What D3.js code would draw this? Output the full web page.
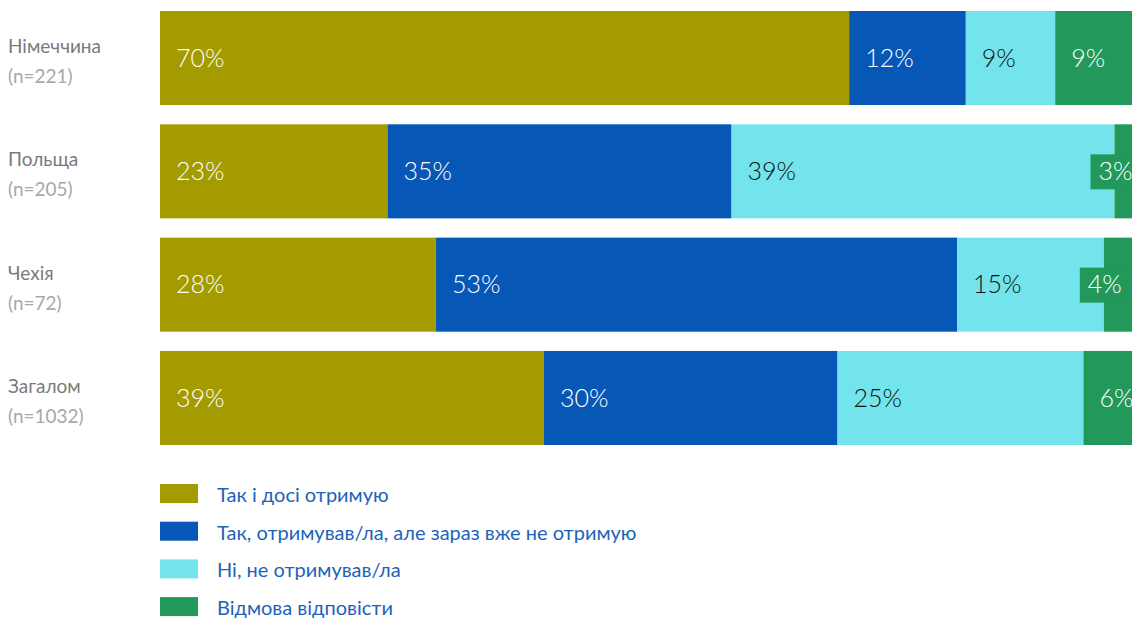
<!DOCTYPE html>
<html>
<head>
<meta charset="utf-8">
<script src="https://cdn.jsdelivr.net/npm/d3@7"></script>
<style>
  body { margin: 0; background: #fff; }
  text { font-family: Lato, "Noto Sans", sans-serif; }
</style>
</head>
<body>
<svg id="chart" width="1132" height="618"></svg>
<script>
// countries (rows) and sample sizes
const countries = ["Німеччина", "Польща", "Чехія", "Загалом"];
const sampleSizes = ["(n=221)", "(n=205)", "(n=72)", "(n=1032)"];

// answer categories
const answers = [
  "Так і досі отримую",
  "Так, отримував/ла, але зараз вже не отримую",
  "Ні, не отримував/ла",
  "Відмова відповісти",
];

// shares (per row, in answer order)
const stillReceive = [70.9, 23.4, 28.4, 39.5];
const receivedBefore = [12.0, 35.4, 53.6, 30.2];
const neverReceived = [9.2, 39.4, 15.1, 25.3];
const refused = [7.9, 1.8, 2.9, 5.0];

// printed labels
const stillReceiveLbl = ["70%", "23%", "28%", "39%"];
const receivedBeforeLbl = ["12%", "35%", "53%", "30%"];
const neverReceivedLbl = ["9%", "39%", "15%", "25%"];
const refusedLbl = ["9%", "3%", "4%", "6%"];

const colors = ["#a39b00", "#0757b7", "#74e4ec", "#22985a"];
const labelColors = ["#fff", "#fff", "#111", "#fff"];

const series = [stillReceive, receivedBefore, neverReceived, refused];
const labels = [stillReceiveLbl, receivedBeforeLbl, neverReceivedLbl, refusedLbl];

const rows = countries.map((c, i) => {
  const r = { country: c };
  answers.forEach((a, k) => r[a] = series[k][i]);
  return r;
});

const width = 1132;
const margin = { left: 160, right: 0, top: 11 };
const svg = d3.select("#chart");

const x = d3.scaleLinear().domain([0, 100]).range([margin.left, width - margin.right]);
const y = d3.scaleBand().domain(countries).range([margin.top, 445]).paddingInner(0.17).paddingOuter(0);

const stacked = d3.stack().keys(answers)(rows);

const layer = svg.append("g").selectAll("g")
  .data(stacked)
  .join("g")
  .attr("fill", (d, k) => colors[k]);

layer.selectAll("rect")
  .data(d => d)
  .join("rect")
  .attr("x", d => x(d[0]))
  .attr("y", d => y(d.data.country))
  .attr("width", d => x(d[1]) - x(d[0]))
  .attr("height", y.bandwidth());

// value labels
stacked.forEach((s, k) => {
  s.forEach((d, i) => {
    const x0 = x(d[0]);
    const w = x(d[1]) - x0;
    const cy = y(d.data.country) + y.bandwidth() / 2;
    const txt = labels[k][i];
    if (w >= 40) {
      svg.append("text")
        .attr("x", x0 + 16)
        .attr("y", cy)
        .attr("dy", "0.35em")
        .attr("fill", labelColors[k])
        .style("font-size", "25px")
        .style("font-weight", 300)
        .text(txt);
    } else {
      // narrow segment: label in a box shifted left of the segment
      const boxX = x0 - 24;
      const g = svg.append("g");
      const t = g.append("text")
        .attr("x", boxX + 8)
        .attr("y", cy)
        .attr("dy", "0.35em")
        .attr("fill", labelColors[k])
        .style("font-size", "25px")
        .style("font-weight", 300)
        .text(txt);
      const tw = t.node().getComputedTextLength();
      g.insert("rect", "text")
        .attr("x", boxX)
        .attr("y", cy - 17)
        .attr("width", Math.min(tw + 16, x(100) - boxX))
        .attr("height", 35)
        .attr("fill", colors[k]);
    }
  });
});

// row labels
const rowLabel = svg.append("g").selectAll("g")
  .data(countries)
  .join("g")
  .attr("transform", d => `translate(8,${y(d) + y.bandwidth() / 2})`);

rowLabel.append("text")
  .attr("y", -5)
  .attr("fill", "#7a7a7a")
  .style("font-size", "19px")
  .text(d => d);

rowLabel.append("text")
  .attr("y", 25)
  .attr("fill", "#a8a8a8")
  .style("font-size", "19px")
  .text((d, i) => sampleSizes[i]);

// legend
const legend = svg.append("g").selectAll("g")
  .data(answers)
  .join("g")
  .attr("transform", (d, i) => `translate(160,${484 + i * 37.7})`);

legend.append("rect")
  .attr("width", 38)
  .attr("height", 19)
  .attr("fill", (d, i) => colors[i]);

legend.append("text")
  .attr("x", 57)
  .attr("y", 18)
  .attr("fill", "#1d63b8")
  .style("font-size", "20px")
  .text(d => d);
</script>
</body>
</html>
